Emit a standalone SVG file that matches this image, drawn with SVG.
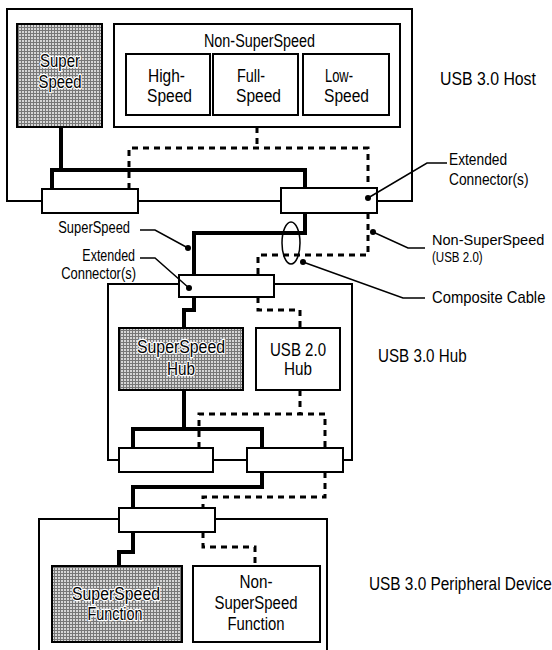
<svg xmlns="http://www.w3.org/2000/svg" width="552" height="650" viewBox="0 0 552 650">
<defs>
<pattern id="mesh" width="3" height="3" patternUnits="userSpaceOnUse">
<rect width="3" height="3" fill="#d6d6d6"/>
<path d="M0,0.5H3M0.5,0V3" stroke="#777" stroke-width="1"/>
</pattern>
<style>
.frame{fill:none;stroke:#000;stroke-width:2}
.box{fill:#fff;stroke:#000;stroke-width:2}
.shade{fill:url(#mesh);stroke:#000;stroke-width:2}
.ss{fill:none;stroke:#000;stroke-width:4}
.ns{fill:none;stroke:#000;stroke-width:3;stroke-dasharray:6 5}
.lead{fill:none;stroke:#000;stroke-width:1.5}
.dot{fill:#000}
text{font-family:"Liberation Sans",Arial,sans-serif;fill:#000}
.t18{font-size:18px}
.t19{font-size:19px}
.t17{font-size:17px}
.t16{font-size:16px}
.t15{font-size:15px}
.mid{text-anchor:middle}
.end{text-anchor:end}
.halo{stroke:#fff;stroke-width:2.5;paint-order:stroke;stroke-linejoin:round}
</style>
</defs>

<g id="host-frame"><rect class="frame" x="7" y="9" width="405" height="192"/></g>
<g id="hub-frame"><rect class="frame" x="108" y="284" width="244" height="176"/></g>
<g id="device-frame"><path class="frame" d="M39,650V519H327V650"/></g>

<g id="connectors">
<path class="ss" d="M61,127V170M52,189V170H305V188"/>
<path class="ns" d="M257,127V148M129,189V148H368V188"/>
<path class="ss" d="M305,213V233H194V275"/>
<path class="ns" d="M368,213V255H258V275"/>
<path class="ss" d="M194,297V310H184V328M184,390V429M133,448V429H262V448"/>
<path class="ns" d="M258,297V310H300V328M300,390V414M199,448V414H325V448"/>
<path class="ss" d="M262,472V487H133V508"/>
<path class="ns" d="M325,472V497H203V508"/>
<path class="ss" d="M133,532V552H119V566"/>
<path class="ns" d="M203,532V547H255V566"/>
</g>

<g id="host-superspeed">
<rect class="shade" x="17" y="24" width="85" height="103"/>
<text class="t18 halo mid" x="60" y="67" textLength="40" lengthAdjust="spacingAndGlyphs">Super</text>
<text class="t18 halo mid" x="60" y="88" textLength="43" lengthAdjust="spacingAndGlyphs">Speed</text>
</g>
<g id="host-nonsuperspeed">
<rect class="box" x="114" y="24" width="286" height="103"/>
<text class="t18" x="204" y="47" textLength="111" lengthAdjust="spacingAndGlyphs">Non-SuperSpeed</text>
</g>
<g id="high-speed">
<rect class="box" x="126" y="54" width="84" height="61"/>
<text class="t18" x="148" y="82" textLength="37" lengthAdjust="spacingAndGlyphs">High-</text>
<text class="t18" x="147" y="102" textLength="45" lengthAdjust="spacingAndGlyphs">Speed</text>
</g>
<g id="full-speed">
<rect class="box" x="213" y="54" width="85" height="61"/>
<text class="t18" x="237" y="82" textLength="28" lengthAdjust="spacingAndGlyphs">Full-</text>
<text class="t18" x="236" y="102" textLength="45" lengthAdjust="spacingAndGlyphs">Speed</text>
</g>
<g id="low-speed">
<rect class="box" x="303" y="54" width="86" height="61"/>
<text class="t18" x="325" y="82" textLength="28" lengthAdjust="spacingAndGlyphs">Low-</text>
<text class="t18" x="324" y="102" textLength="45" lengthAdjust="spacingAndGlyphs">Speed</text>
</g>
<g id="host-conn-left"><rect class="box" x="42" y="189" width="96" height="24"/></g>
<g id="host-conn-right"><rect class="box" x="281" y="188" width="96" height="25"/></g>
<g id="host-label"><text class="t19" transform="translate(440,85) scale(0.834,1)">USB 3.0 Host</text></g>

<g id="hub-conn-up"><rect class="box" x="179" y="275" width="95" height="22"/></g>
<g id="superspeed-hub">
<rect class="shade" x="119" y="328" width="124" height="62"/>
<text class="t18 halo mid" x="181" y="353" textLength="88" lengthAdjust="spacingAndGlyphs">SuperSpeed</text>
<text class="t18 halo mid" x="181" y="375" textLength="28" lengthAdjust="spacingAndGlyphs">Hub</text>
</g>
<g id="usb20-hub">
<rect class="box" x="256" y="328" width="84" height="62"/>
<text class="t18 mid" x="298" y="356" textLength="56" lengthAdjust="spacingAndGlyphs">USB 2.0</text>
<text class="t18 mid" x="298" y="375" textLength="28" lengthAdjust="spacingAndGlyphs">Hub</text>
</g>
<g id="hub-conn-left"><rect class="box" x="119" y="448" width="94" height="24"/></g>
<g id="hub-conn-right"><rect class="box" x="247" y="448" width="96" height="24"/></g>
<g id="hub-label"><text class="t19" transform="translate(378,362) scale(0.80,1)">USB 3.0 Hub</text></g>

<g id="device-conn"><rect class="box" x="119" y="508" width="96" height="24"/></g>
<g id="superspeed-function">
<rect class="shade" x="52" y="566" width="130" height="76"/>
<text class="t18 halo mid" x="116" y="600" textLength="88" lengthAdjust="spacingAndGlyphs">SuperSpeed</text>
<text class="t18 halo mid" x="115" y="620" textLength="55" lengthAdjust="spacingAndGlyphs">Function</text>
</g>
<g id="nonsuperspeed-function">
<rect class="box" x="193" y="566" width="127" height="76"/>
<text class="t18 mid" x="256" y="588" textLength="33" lengthAdjust="spacingAndGlyphs">Non-</text>
<text class="t18 mid" x="256" y="609" textLength="83" lengthAdjust="spacingAndGlyphs">SuperSpeed</text>
<text class="t18 mid" x="256" y="630" textLength="57" lengthAdjust="spacingAndGlyphs">Function</text>
</g>
<g id="device-label"><text class="t19" transform="translate(369,590) scale(0.81,1)">USB 3.0 Peripheral Device</text></g>

<g id="callouts">
<ellipse class="lead" cx="291" cy="243" rx="9" ry="21"/>
<path class="lead" d="M368,198L427,163H447"/>
<circle class="dot" cx="368" cy="198" r="3"/>
<path class="lead" d="M373,232L408,248H425"/>
<circle class="dot" cx="373" cy="232" r="3"/>
<path class="lead" d="M303,262L403,298H425"/>
<circle class="dot" cx="303" cy="262" r="3"/>
<path class="lead" d="M140,230H155L188,248"/>
<circle class="dot" cx="188" cy="248" r="3"/>
<path class="lead" d="M140,258H155L189,288"/>
<circle class="dot" cx="189" cy="288" r="3"/>
<text class="t17" transform="translate(449,165) scale(0.81,1)">Extended</text>
<text class="t17" transform="translate(449,185) scale(0.81,1)">Connector(s)</text>
<text class="t15" transform="translate(432,245) scale(0.97,1)">Non-SuperSpeed</text>
<text class="t15" transform="translate(432,262) scale(0.77,1)">(USB 2.0)</text>
<text class="t17" transform="translate(432,303) scale(0.87,1)">Composite Cable</text>
<text class="t17 end" transform="translate(130,233) scale(0.76,1)">SuperSpeed</text>
<text class="t16 end" transform="translate(135,261) scale(0.78,1)">Extended</text>
<text class="t16 end" transform="translate(136,279) scale(0.81,1)">Connector(s)</text>
</g>
</svg>
